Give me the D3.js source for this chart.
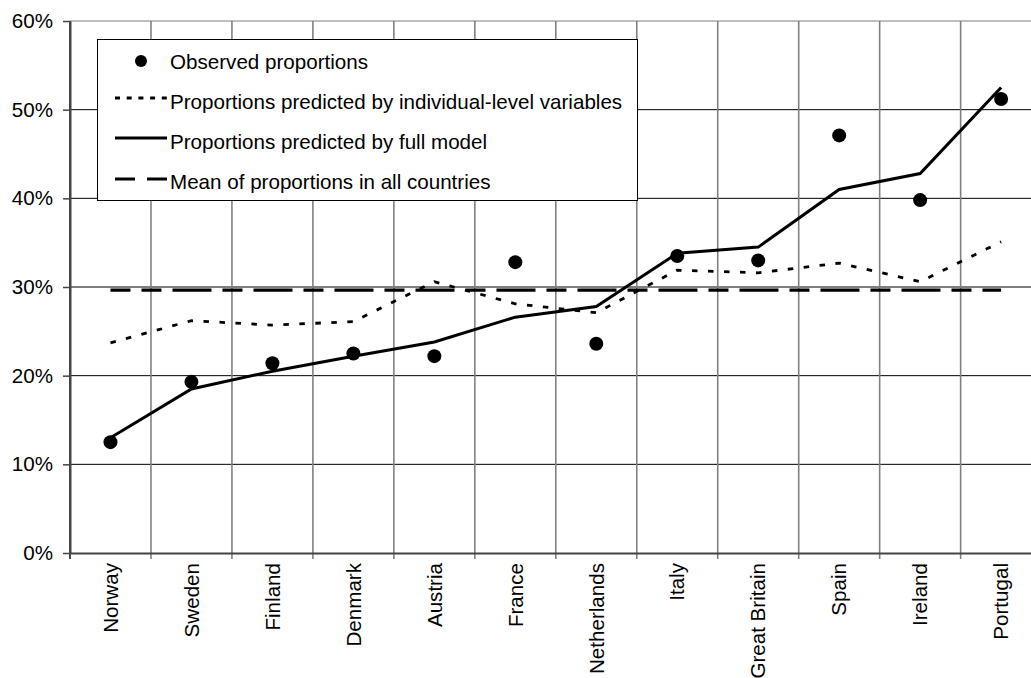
<!DOCTYPE html>
<html>
<head>
<meta charset="utf-8">
<script src="https://cdn.jsdelivr.net/npm/d3@7"></script>
<style>
  body { margin: 0; background: #fff; }
  svg { display: block; font-family: "Liberation Sans", Arial, sans-serif; }
</style>
</head>
<body>
<svg id="chart" width="1031" height="678"></svg>
<script>
const countries = ["Norway","Sweden","Finland","Denmark","Austria","France","Netherlands","Italy","Great Britain","Spain","Ireland","Portugal"];
const observed = [0.125,0.193,0.214,0.225,0.222,0.328,0.236,0.335,0.330,0.471,0.398,0.512];
const predictedIndividual = [0.237,0.262,0.257,0.261,0.306,0.281,0.271,0.319,0.316,0.327,0.306,0.351];
const predictedFull = [0.130,0.185,0.205,0.222,0.238,0.266,0.278,0.338,0.345,0.410,0.428,0.525];
const meanAll = 0.2965;
const yTicks = [0,0.1,0.2,0.3,0.4,0.5,0.6];
const legendLabels = ["Observed proportions","Proportions predicted by individual-level variables","Proportions predicted by full model","Mean of proportions in all countries"];

const FS = 20.6;
const svg = d3.select("#chart");
const x = d3.scaleBand().domain(countries).range([70, 1041.6]);
const y = d3.scaleLinear().domain([0, 0.6]).range([553, 21]);
const cx = d => x(d) + x.bandwidth() / 2;

// horizontal gridlines
svg.append("g").selectAll("line").data(yTicks.filter(t => t > 0)).join("line")
  .attr("x1", 70).attr("x2", 1041)
  .attr("y1", d => y(d)).attr("y2", d => y(d))
  .attr("stroke", d => d === 0.6 ? "#808080" : "#000").attr("stroke-width", 1);

// vertical gridlines (band boundaries), extending below axis as ticks
const bounds = countries.map(c => x(c)).concat([x.range()[1]]);
svg.append("g").selectAll("line").data(bounds.slice(1)).join("line")
  .attr("x1", d => d).attr("x2", d => d)
  .attr("y1", y(0.6)).attr("y2", 559)
  .attr("stroke", "#808080").attr("stroke-width", 1.6);

// y axis
const yAxis = svg.append("g").attr("transform", "translate(70,0)")
  .call(d3.axisLeft(y).tickValues(yTicks).tickFormat(d3.format(".0%")).tickSizeInner(7).tickSizeOuter(0).tickPadding(10));
yAxis.select(".domain").attr("stroke", "#444").attr("stroke-width", 2);
yAxis.selectAll(".tick line").attr("stroke", "#444").attr("stroke-width", 1.5);
yAxis.selectAll(".tick text").attr("font-size", FS).attr("fill", "#000").attr("font-family", "Liberation Sans, Arial, sans-serif");

// x axis
const xAxis = svg.append("g").attr("transform", "translate(0,553)")
  .call(d3.axisBottom(x).tickSize(0).tickSizeOuter(0));
xAxis.select(".domain").attr("stroke", "#444").attr("stroke-width", 2);
xAxis.selectAll(".tick text")
  .attr("font-size", FS).attr("fill", "#000").attr("font-family", "Liberation Sans, Arial, sans-serif")
  .attr("text-anchor", "end")
  .attr("transform", "translate(0,10) rotate(-90)")
  .attr("x", 0).attr("y", 0).attr("dy", "0.35em");

// y-axis left line on top
svg.append("line").attr("x1", 70).attr("x2", 70).attr("y1", y(0.6)).attr("y2", 559)
  .attr("stroke", "#444").attr("stroke-width", 2);

// mean line
svg.append("line")
  .attr("x1", cx(countries[0])).attr("x2", cx(countries[countries.length - 1]))
  .attr("y1", y(meanAll)).attr("y2", y(meanAll))
  .attr("stroke", "#000").attr("stroke-width", 3.2)
  .attr("stroke-dasharray", "39,11,20,11").attr("stroke-dashoffset", 19);

const line = d3.line().x((d, i) => cx(countries[i])).y(d => y(d));

svg.append("path").datum(predictedIndividual).attr("d", line)
  .attr("fill", "none").attr("stroke", "#000").attr("stroke-width", 2.8)
  .attr("stroke-dasharray", "5.5,10.5");

svg.append("path").datum(predictedFull).attr("d", line)
  .attr("fill", "none").attr("stroke", "#000").attr("stroke-width", 3);

svg.append("g").selectAll("circle").data(observed).join("circle")
  .attr("cx", (d, i) => cx(countries[i])).attr("cy", d => y(d)).attr("r", 7).attr("fill", "#000");

// legend
const lg = svg.append("g");
lg.append("rect").attr("x", 97.5).attr("y", 39.5).attr("width", 540).attr("height", 161)
  .attr("fill", "#fff").attr("stroke", "#000").attr("stroke-width", 1);
const rowY = [62, 102, 142, 182];
lg.append("circle").attr("cx", 141).attr("cy", rowY[0] - 1).attr("r", 6).attr("fill", "#000");
lg.append("line").attr("x1", 115).attr("x2", 167).attr("y1", rowY[1] - 4).attr("y2", rowY[1] - 4)
  .attr("stroke", "#000").attr("stroke-width", 2.8).attr("stroke-dasharray", "5,6.7");
lg.append("line").attr("x1", 115).attr("x2", 167).attr("y1", rowY[2] - 4).attr("y2", rowY[2] - 4)
  .attr("stroke", "#000").attr("stroke-width", 3);
lg.append("line").attr("x1", 115).attr("x2", 167).attr("y1", rowY[3] - 3).attr("y2", rowY[3] - 3)
  .attr("stroke", "#000").attr("stroke-width", 3.2).attr("stroke-dasharray", "20,12");
lg.selectAll("text").data(legendLabels).join("text")
  .attr("x", 170).attr("y", (d, i) => rowY[i]).attr("dy", "0.35em")
  .attr("font-size", FS).attr("fill", "#000").text(d => d);
</script>
</body>
</html>
